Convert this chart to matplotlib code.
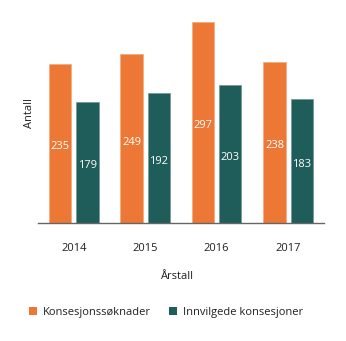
import matplotlib
matplotlib.use("Agg")
import matplotlib.pyplot as plt
import numpy as np
from matplotlib.patches import Patch

plt.rcParams['font.family'] = ['Open Sans', 'DejaVu Sans']

years = ["2014", "2015", "2016", "2017"]
soknader = [235, 249, 297, 238]
innvilget = [179, 192, 203, 183]
series_names = ["Konsesjonssøknader", "Innvilgede konsesjoner"]

orange = "#ED7835"
teal = "#1F5D5B"
text_col = "#231F20"

fig = plt.figure(figsize=(3.46, 3.41), dpi=100)
ax = fig.add_axes([0.110, 0.345, 0.826, 0.6175])

x = np.arange(len(years))
w = 0.313
off = 0.19
b1 = ax.bar(x - off, soknader, w, color=orange, edgecolor="#F5A77A", linewidth=0.5)
b2 = ax.bar(x + off, innvilget, w, color=teal, edgecolor="#6E9593", linewidth=0.5)

for rects, vals in ((b1, soknader), (b2, innvilget)):
    for r, v in zip(rects, vals):
        ax.text(r.get_x() + r.get_width() / 2, v / 2 - 5, str(v),
                ha="center", va="center", color="white", fontsize=8)

ax.set_xlim(-0.5, 3.5)
ax.set_ylim(0, 310)
ax.set_xticks(x)
ax.set_xticklabels(years, fontsize=8, color=text_col)
ax.tick_params(axis="x", length=0, pad=14)
ax.set_yticks([])
for s in ("top", "right", "left"):
    ax.spines[s].set_visible(False)
ax.spines["bottom"].set_color("#666666")
ax.spines["bottom"].set_linewidth(1.0)

fig.text(0.084, 0.667, "Antall", rotation=90, ha="center", va="center",
         fontsize=8, color=text_col)
fig.text(0.509, 0.188, "Årstall", ha="center", va="center",
         fontsize=8, color=text_col)

handles = [Patch(facecolor=orange, edgecolor="none"),
           Patch(facecolor=teal, edgecolor="none")]
fig.legend(handles, series_names, loc="center left", bbox_to_anchor=(0.055, 0.083),
           ncol=2, frameon=False, fontsize=8, handlelength=0.75, handleheight=0.75,
           handletextpad=0.5, columnspacing=1.6, labelcolor=text_col)

fig.savefig("out.png", dpi=100)
